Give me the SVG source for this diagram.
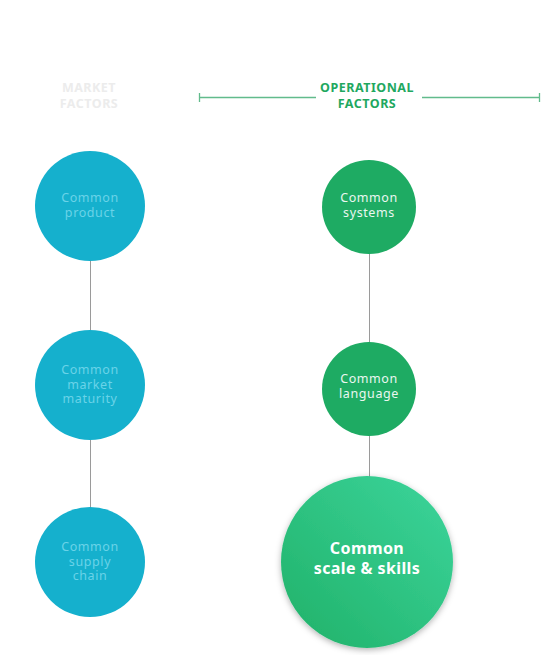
<svg xmlns="http://www.w3.org/2000/svg" width="541" height="655" viewBox="0 0 541 655">
<style>
.hdr{font-family:"Noto Sans","Liberation Sans",sans-serif;font-weight:700;font-size:12.5px;text-anchor:middle;letter-spacing:0.5px}
.lbl{font-family:"Noto Sans","Liberation Sans",sans-serif;font-size:12.5px;text-anchor:middle;letter-spacing:0.6px}
.big{font-family:"Noto Sans","Liberation Sans",sans-serif;font-size:16px;font-weight:700;text-anchor:middle;letter-spacing:0.4px;fill:#fff}
.mk{fill:#15b0cd}
.mkt{fill:#6ad3e8}
.op{fill:#1eab63}
.opt{fill:#eaf7f0}
.conn{stroke:#9a9a9a;stroke-width:1;fill:none}
</style>
<defs>
<linearGradient id="g1" x1="1" y1="0" x2="0" y2="1">
<stop offset="0" stop-color="#3cd59c"/>
<stop offset="1" stop-color="#20b168"/>
</linearGradient>
<filter id="sh" x="-20%" y="-20%" width="140%" height="140%">
<feDropShadow dx="0" dy="2" stdDeviation="3" flood-color="#000" flood-opacity="0.3"/>
</filter>
</defs>
<rect width="541" height="655" fill="#fff"/>
<g id="market-header">
<text class="hdr" x="89" y="92" fill="#ececec">MARKET</text>
<text class="hdr" x="89" y="108" fill="#ececec">FACTORS</text>
</g>
<g id="operational-header">
<path d="M199.5 93v9M199.5 97.5H316M422 97.5H539.5M539.5 93v9" stroke="#62bb8c" stroke-width="1.3" fill="none"/>
<text class="hdr" x="367" y="92" fill="#1fa85f">OPERATIONAL</text>
<text class="hdr" x="367" y="108" fill="#1fa85f">FACTORS</text>
</g>
<g id="connectors">
<line class="conn" x1="90.5" y1="261" x2="90.5" y2="331"/>
<line class="conn" x1="90.5" y1="440" x2="90.5" y2="508"/>
<line class="conn" x1="369.5" y1="253" x2="369.5" y2="343"/>
<line class="conn" x1="369.5" y1="435" x2="369.5" y2="477"/>
</g>
<g id="common-product">
<circle class="mk" cx="90" cy="206" r="55"/>
<text class="lbl mkt" x="90" y="202">Common</text>
<text class="lbl mkt" x="90" y="216.5">product</text>
</g>
<g id="common-market-maturity">
<circle class="mk" cx="90" cy="385" r="55"/>
<text class="lbl mkt" x="90" y="374">Common</text>
<text class="lbl mkt" x="90" y="388.5">market</text>
<text class="lbl mkt" x="90" y="403">maturity</text>
</g>
<g id="common-supply-chain">
<circle class="mk" cx="90" cy="562" r="55"/>
<text class="lbl mkt" x="90" y="551">Common</text>
<text class="lbl mkt" x="90" y="565.5">supply</text>
<text class="lbl mkt" x="90" y="580">chain</text>
</g>
<g id="common-systems">
<circle class="op" cx="369" cy="207" r="47"/>
<text class="lbl opt" x="369" y="202">Common</text>
<text class="lbl opt" x="369" y="217">systems</text>
</g>
<g id="common-language">
<circle class="op" cx="369" cy="389" r="47"/>
<text class="lbl opt" x="369" y="383">Common</text>
<text class="lbl opt" x="369" y="398">language</text>
</g>
<g id="common-scale-skills">
<circle cx="367" cy="562" r="86" fill="url(#g1)" filter="url(#sh)"/>
<text class="big" x="367" y="554">Common</text>
<text class="big" x="367" y="574">scale &amp; skills</text>
</g>
</svg>
